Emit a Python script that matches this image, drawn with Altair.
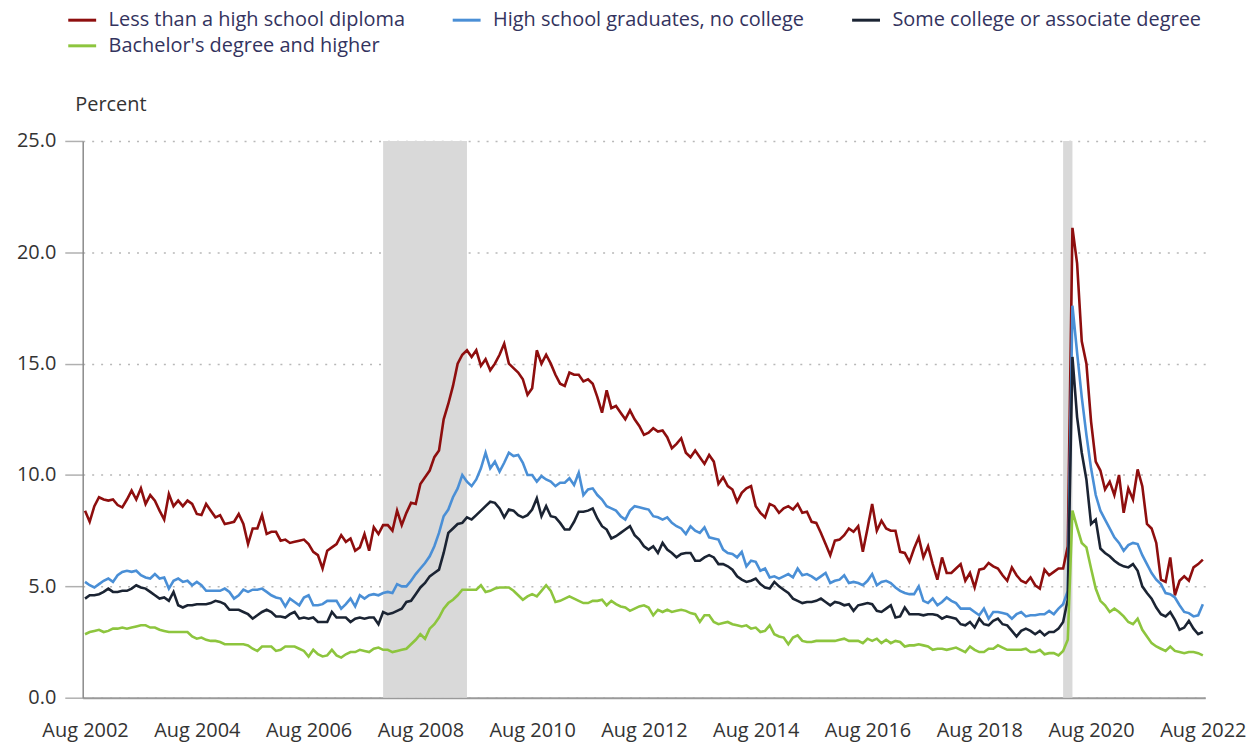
import altair as alt
import pandas as pd

# ---------------- data (monthly Aug 2002 .. Aug 2022) ----------------
series_names = [
    "Less than a high school diploma",
    "High school graduates, no college",
    "Some college or associate degree",
    "Bachelor's degree and higher",
]
series_colors = ["#8e0e0e", "#4a8fd6", "#1b2433", "#8dc53e"]

tick_labels = ["Aug 2002", "Aug 2004", "Aug 2006", "Aug 2008", "Aug 2010", "Aug 2012",
               "Aug 2014", "Aug 2016", "Aug 2018", "Aug 2020", "Aug 2022"]
tick_months = [0, 24, 48, 72, 96, 120, 144, 168, 192, 216, 240]
y_ticks = [0, 5, 10, 15, 20, 25]

# recession shading (month index since Aug 2002): Dec 2007-Jun 2009, Feb 2020-Apr 2020
rec_start = [64, 210]
rec_end = [82, 212]

less_hs = [
    8.4, 7.9, 8.6, 9.0, 8.9, 8.85, 8.9, 8.65, 8.55, 8.9, 9.3, 8.9,
    9.4, 8.7, 9.1, 8.85, 8.4, 8.0, 9.15, 8.6, 8.85, 8.6, 8.85, 8.7,
    8.25, 8.2, 8.7, 8.4, 8.1, 8.2, 7.8, 7.85, 7.9, 8.25, 7.8, 6.9,
    7.6, 7.6, 8.2, 7.35, 7.45, 7.45, 7.05, 7.1, 6.95, 7.0, 7.05, 7.1,
    6.9, 6.55, 6.4, 5.8, 6.6, 6.75, 6.9, 7.3, 7.0, 7.15, 6.6, 6.75,
    7.35, 6.6, 7.65, 7.35, 7.75, 7.75, 7.5, 8.4, 7.75, 8.3, 8.75, 8.7,
    9.6, 9.9, 10.2, 10.8, 11.1, 12.5, 13.2, 14.0, 15.0, 15.4, 15.6, 15.3,
    15.6, 14.9, 15.2, 14.7, 15.0, 15.4, 15.9, 15.0, 14.8, 14.6, 14.3, 13.6,
    13.9, 15.6, 15.0, 15.4, 15.0, 14.5, 14.1, 14.0, 14.6, 14.5, 14.5, 14.2,
    14.3, 14.1, 13.5, 12.8, 13.8, 13.0, 13.1, 12.8, 12.5, 12.9, 12.5, 12.2,
    11.8, 11.9, 12.1, 11.95, 12.0, 11.7, 11.2, 11.4, 11.65, 11.0, 10.8, 11.1,
    10.8, 10.5, 10.9, 10.6, 9.6, 9.9, 9.5, 9.35, 8.8, 9.2, 9.4, 9.5,
    8.6, 8.3, 8.1, 8.7, 8.6, 8.3, 8.5, 8.6, 8.45, 8.7, 8.3, 8.35,
    7.9, 7.85, 7.4, 6.9, 6.4, 7.05, 7.1, 7.3, 7.6, 7.45, 7.7, 6.55,
    7.6, 8.7, 7.5, 7.95, 7.6, 7.5, 7.5, 6.55, 6.5, 6.1, 6.7, 7.2,
    6.3, 6.8, 6.0, 5.3, 6.3, 5.6, 5.6, 5.8, 6.0, 5.25, 5.6, 4.95,
    5.75, 5.8, 6.05, 5.9, 5.8, 5.5, 5.25, 5.85, 5.5, 5.25, 5.15, 5.4,
    5.05, 4.9, 5.75, 5.5, 5.65, 5.8, 5.8, 6.8, 21.1, 19.5, 16.0, 15.0,
    12.4, 10.6, 10.2, 9.35, 9.7, 9.1, 10.0, 8.3, 9.4, 8.9, 10.25, 9.5,
    7.8, 7.6, 6.95, 5.3, 5.2, 6.3, 4.6, 5.25, 5.45, 5.25, 5.85, 6.0,
    6.2,
]

hs_grad = [
    5.2, 5.05, 4.95, 5.1, 5.25, 5.35, 5.2, 5.5, 5.65, 5.7, 5.65, 5.7,
    5.5, 5.4, 5.35, 5.55, 5.35, 5.4, 4.9, 5.25, 5.35, 5.2, 5.25, 5.05,
    5.2, 5.05, 4.8, 4.8, 4.8, 4.8, 4.9, 4.75, 4.45, 4.6, 4.85, 4.75,
    4.85, 4.85, 4.9, 4.75, 4.6, 4.5, 4.45, 4.1, 4.45, 4.3, 4.15, 4.5,
    4.6, 4.15, 4.15, 4.2, 4.35, 4.35, 4.35, 4.0, 4.2, 4.45, 4.1, 4.6,
    4.45, 4.6, 4.65, 4.6, 4.7, 4.75, 4.7, 5.1, 5.0, 5.0, 5.25, 5.55,
    5.8, 6.05, 6.35, 6.8, 7.4, 8.15, 8.45, 9.0, 9.4, 10.0, 9.7, 9.5,
    9.8, 10.3, 11.0, 10.3, 10.6, 10.15, 10.55, 11.0, 10.85, 10.9, 10.55, 10.0,
    10.0, 9.7, 9.95, 9.8, 9.7, 9.5, 9.65, 9.65, 9.85, 9.55, 10.1, 9.1,
    9.35, 9.4, 9.1, 8.9, 8.6, 8.5, 8.4, 8.15, 8.0, 8.4, 8.6, 8.55,
    8.5, 8.45, 8.15, 8.1, 8.0, 8.1, 7.85, 7.7, 7.6, 7.35, 7.7, 7.5,
    7.4, 7.65, 7.2, 7.15, 7.1, 6.65, 6.5, 6.45, 6.3, 6.55, 5.9, 6.15,
    6.1, 5.7, 5.8, 5.4, 5.45, 5.35, 5.45, 5.55, 5.4, 5.8, 5.5, 5.55,
    5.45, 5.3, 5.45, 5.6, 5.15, 5.25, 5.3, 5.5, 5.15, 5.2, 5.15, 5.05,
    5.25, 5.55, 5.05, 5.2, 5.25, 5.15, 4.95, 4.8, 4.7, 4.65, 4.65, 5.0,
    4.35, 4.25, 4.45, 4.15, 4.3, 4.5, 4.35, 4.25, 4.0, 4.0, 4.0, 3.85,
    3.7, 4.0, 3.55, 3.85, 3.85, 3.8, 3.75, 3.55, 3.75, 3.85, 3.65, 3.7,
    3.7, 3.75, 3.75, 3.9, 3.75, 4.0, 4.2, 4.8, 17.6, 15.5, 13.5, 11.8,
    10.3, 9.1, 8.4, 8.0, 7.6, 7.2, 6.95, 6.6, 6.85, 6.95, 6.9, 6.4,
    6.0, 5.6, 5.3, 5.1, 4.7, 4.65, 4.5, 4.15, 3.85, 3.8, 3.65, 3.7,
    4.2,
]

some_college = [
    4.45, 4.6, 4.6, 4.65, 4.75, 4.9, 4.75, 4.75, 4.8, 4.8, 4.9, 5.05,
    4.95, 4.9, 4.75, 4.6, 4.45, 4.5, 4.35, 4.75, 4.15, 4.05, 4.15, 4.15,
    4.2, 4.2, 4.2, 4.25, 4.35, 4.3, 4.2, 3.95, 3.95, 3.95, 3.85, 3.75,
    3.55, 3.7, 3.85, 3.95, 3.85, 3.65, 3.65, 3.6, 3.75, 3.85, 3.55, 3.6,
    3.55, 3.6, 3.4, 3.4, 3.4, 3.85, 3.6, 3.6, 3.6, 3.4, 3.55, 3.6,
    3.55, 3.6, 3.6, 3.3, 3.85, 3.75, 3.8, 3.9, 4.0, 4.3, 4.35, 4.65,
    4.95, 5.15, 5.45, 5.6, 5.75, 6.5, 7.4, 7.6, 7.8, 7.85, 8.1, 8.0,
    8.2, 8.4, 8.6, 8.8, 8.75, 8.5, 8.1, 8.45, 8.4, 8.2, 8.1, 8.2,
    8.45, 8.95, 8.15, 8.6, 8.15, 8.1, 7.85, 7.55, 7.55, 7.9, 8.35, 8.35,
    8.4, 8.5, 8.05, 7.7, 7.55, 7.15, 7.25, 7.4, 7.55, 7.7, 7.3, 7.1,
    6.8, 6.65, 6.8, 6.5, 6.95, 6.65, 6.5, 6.3, 6.45, 6.5, 6.5, 6.15,
    6.15, 6.3, 6.4, 6.3, 6.0, 6.0, 5.9, 5.75, 5.45, 5.3, 5.2, 5.25,
    5.35, 5.1, 4.95, 4.9, 5.2, 5.0, 4.85, 4.7, 4.45, 4.35, 4.25, 4.3,
    4.3, 4.35, 4.45, 4.3, 4.15, 4.3, 4.25, 4.15, 4.2, 3.9, 4.15, 4.2,
    4.25, 4.2, 3.9, 3.85, 4.0, 4.15, 3.6, 3.65, 4.05, 3.75, 3.75, 3.75,
    3.7, 3.75, 3.75, 3.7, 3.55, 3.65, 3.6, 3.55, 3.3, 3.25, 3.4, 3.15,
    3.55, 3.3, 3.25, 3.45, 3.55, 3.3, 3.25, 3.0, 2.75, 3.0, 3.1, 3.0,
    2.85, 3.0, 2.8, 2.95, 2.95, 3.1, 3.4, 4.4, 15.3, 12.6, 11.0, 9.8,
    7.8, 8.0, 6.7, 6.5, 6.35, 6.15, 6.0, 5.9, 5.85, 6.0, 5.7, 5.0,
    4.7, 4.45, 4.05, 3.75, 3.65, 3.85, 3.5, 3.05, 3.15, 3.45, 3.1, 2.85,
    2.95,
]

bachelors = [
    2.85, 2.95, 3.0, 3.05, 2.95, 3.0, 3.1, 3.1, 3.15, 3.1, 3.15, 3.2,
    3.25, 3.25, 3.15, 3.15, 3.05, 3.0, 2.95, 2.95, 2.95, 2.95, 2.95, 2.75,
    2.65, 2.7, 2.6, 2.55, 2.55, 2.5, 2.4, 2.4, 2.4, 2.4, 2.4, 2.35,
    2.2, 2.1, 2.3, 2.3, 2.3, 2.1, 2.15, 2.3, 2.3, 2.3, 2.2, 2.1,
    1.85, 2.15, 1.95, 1.85, 1.9, 2.15, 1.9, 1.8, 1.95, 2.05, 2.05, 2.15,
    2.1, 2.05, 2.2, 2.25, 2.15, 2.15, 2.05, 2.1, 2.15, 2.2, 2.4, 2.6,
    2.85, 2.65, 3.1, 3.3, 3.6, 4.0, 4.25, 4.4, 4.6, 4.85, 4.85, 4.85,
    4.85, 5.05, 4.75, 4.8, 4.9, 4.95, 4.95, 4.95, 4.8, 4.6, 4.4, 4.55,
    4.65, 4.55, 4.8, 5.05, 4.8, 4.3, 4.35, 4.45, 4.55, 4.45, 4.35, 4.25,
    4.25, 4.35, 4.35, 4.4, 4.15, 4.35, 4.2, 4.1, 4.05, 3.9, 4.0, 4.1,
    4.15, 4.05, 3.7, 3.95, 3.85, 3.95, 3.85, 3.9, 3.95, 3.9, 3.8, 3.75,
    3.4, 3.7, 3.7, 3.4, 3.3, 3.35, 3.4, 3.3, 3.25, 3.2, 3.25, 3.1,
    3.15, 2.95, 3.0, 3.25, 2.85, 2.75, 2.7, 2.4, 2.7, 2.8, 2.55, 2.5,
    2.5, 2.55, 2.55, 2.55, 2.55, 2.55, 2.6, 2.65, 2.55, 2.55, 2.55, 2.45,
    2.65, 2.55, 2.65, 2.45, 2.6, 2.45, 2.55, 2.5, 2.3, 2.35, 2.35, 2.4,
    2.35, 2.3, 2.15, 2.2, 2.2, 2.15, 2.2, 2.25, 2.15, 2.05, 2.3, 2.15,
    2.05, 2.05, 2.2, 2.2, 2.35, 2.25, 2.15, 2.15, 2.15, 2.15, 2.2, 2.05,
    2.05, 2.15, 1.95, 2.0, 2.0, 1.9, 2.1, 2.6, 8.4, 7.65, 6.95, 6.75,
    5.8, 4.9, 4.35, 4.15, 3.85, 4.0, 3.85, 3.65, 3.4, 3.3, 3.55, 3.05,
    2.75, 2.45, 2.3, 2.2, 2.1, 2.3, 2.1, 2.05, 2.0, 2.05, 2.05, 2.0,
    1.9,
]

# ---------------- tables ----------------
rows = []
for name, vals in zip(series_names, [less_hs, hs_grad, some_college, bachelors]):
    for m, v in enumerate(vals):
        rows.append({"month": m, "rate": v, "series": name})
df = pd.DataFrame(rows)
rec = pd.DataFrame({"start": rec_start, "end": rec_end})

FONT = "Open Sans"
n_months = max(len(less_hs), len(hs_grad), len(some_college), len(bachelors))
xscale = alt.Scale(domain=[-0.5, n_months - 0.5], nice=False, zero=False)
yscale = alt.Scale(domain=[0, 25], nice=False, zero=True)

label_array = "[" + ",".join("'" + t + "'" for t in tick_labels) + "]"
x_axis = alt.Axis(
    values=tick_months,
    labelExpr=label_array + "[round(datum.value / 24)]",
    title=None,
    grid=False,
    ticks=False,
    labelFont=FONT,
    labelFontSize=20,
    labelColor="#333333",
    labelPadding=23,
    domainColor="#9a9a9a",
    domainWidth=2,
    labelFlush=False,
    labelOverlap=False,
)

y_axis = alt.Axis(
    values=y_ticks,
    format=".1f",
    title="Percent",
    titleAngle=0,
    titleAlign="left",
    titleBaseline="middle",
    titleX=-8,
    titleY=-37,
    titleFont=FONT,
    titleFontSize=20,
    titleFontWeight="normal",
    titleColor="#333333",
    labelFont=FONT,
    labelFontSize=20,
    labelColor="#333333",
    labelPadding=9,
    tickSize=18,
    tickColor="#b0b0b0",
    tickWidth=1.5,
    domainColor="#8a8a8a",
    domainWidth=1.5,
    grid=True,
    gridColor="#b8b8b8",
    gridDash=[2, 7],
    gridWidth=1.5,
)

bands = alt.Chart(rec).mark_rect(color="#d9d9d9").encode(
    x=alt.X("start:Q", scale=xscale, axis=x_axis),
    x2="end:Q",
    y=alt.value(0),
    y2=alt.value(559),
)

lines = alt.Chart(df).mark_line(strokeWidth=2.6).encode(
    x=alt.X("month:Q", scale=xscale, axis=x_axis),
    y=alt.Y("rate:Q", scale=yscale, axis=y_axis),
    color=alt.Color(
        "series:N",
        scale=alt.Scale(domain=series_names, range=series_colors),
        sort=series_names,
        legend=alt.Legend(
            title=None,
            orient="none",
            direction="horizontal",
            legendX=-16,
            legendY=-137,
            columns=3,
            columnPadding=41,
            rowPadding=0,
            padding=0,
            symbolType="stroke",
            symbolSize=784,
            symbolStrokeWidth=3,
            labelFont=FONT,
            labelFontSize=20,
            labelColor="#33335e",
            labelOffset=11,
            labelLimit=500,
        ),
    ),
    order=alt.Order("month:Q"),
)

chart = alt.layer(bands, lines).properties(
    width=1127,
    height=559,
    padding={"left": 75, "top": 132, "right": 45, "bottom": 46},
    autosize=alt.AutoSizeParams(type="none"),
    background="white",
).configure_view(stroke=None)

chart.save("out.html", embed_options={"renderer": "svg", "actions": False})
